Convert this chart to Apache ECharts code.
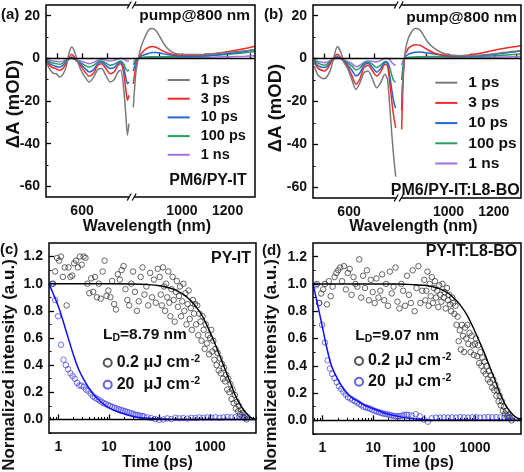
<!DOCTYPE html>
<html><head><meta charset="utf-8">
<script src="https://cdn.jsdelivr.net/npm/echarts@6/dist/echarts.min.js"></script>
<style>html,body{margin:0;padding:0;background:#fff}#c{width:524px;height:472px}</style>
</head><body><div id="c"></div>
<script>
// ---------- Panel (a)/(b): transient absorption spectra ----------
const names = ['1 ps','3 ps','10 ps','100 ps','1 ns'];
const colors = ['#7a7a7a','#f02828','#1f66d8','#22a05c','#a66ee6'];

const wlL_a = [456,469,483,496,509,523,536,549,559,569,583,596,612,629,647,663,679,696,713,729,745,756,767,776,783,789];
const a1L = [-1.7,-4.8,-6.9,-7.2,-8.8,-7.5,-4,3,5.3,3.4,-1.7,-5.6,-8.8,-11.1,-8.8,-5.3,-4.8,-8,-11.1,-10,-6.4,-5.6,-13.4,-26,-36,-30.6];
const a3L = [-1.3,-3.3,-4.4,-4.8,-5.6,-4.8,-2.5,0.6,1.9,0.6,-1.7,-3.8,-6.4,-8.4,-6.9,-3.3,-2.5,-4.8,-7.2,-6.4,-3.3,-2.5,-6.4,-14.2,-19.7,-17.3];
const a10L = [-0.9,-2.5,-3.3,-3.8,-4.1,-3.3,-1.7,-0.2,0.6,-0.2,-1.7,-2.8,-4.8,-6.4,-5.3,-2.5,-1.7,-3.3,-4.8,-4.4,-2.5,-1.7,-4.1,-8.8,-11.9,-11];
const a100L = [-0.6,-1.7,-2.2,-2.5,-2.8,-2.2,-0.9,0,0.3,-0.2,-1.3,-2.2,-3.3,-4.1,-3.3,-1.7,-1.3,-2.2,-3.3,-2.8,-1.7,-1.3,-2.5,-4.8,-5.9,-5.3];
const a1nL = [-0.3,-0.9,-1.3,-1.4,-1.6,-1.3,-0.6,-0.2,0,-0.3,-0.9,-1.4,-1.9,-2.5,-1.9,-0.9,-0.6,-0.9,-1.3,-0.9,-0.3,0,-0.3,-0.9,-1.3,-1.3];

const wlR_a = [787,798,809,821,838,856,869,886,904,926,948,974,1013,1079,1145,1211,1276,1320];
const a1R = [-23,-7,0,5.3,10,13.5,14,13,10,6,3.5,2.2,1.8,1.8,2.2,2.8,3.5,4.2];
const a3R = [-12,-4,0,2,4,5.2,5.5,5.2,4.2,3,2.2,1.7,1.5,1.6,2.3,3.3,4.6,5.7];
const a10R = [-6,-2,0,1,1.8,2.4,2.7,2.7,2.5,2,1.6,1.2,1,1.1,1.6,2.3,3.2,4];
const a100R = [-3,-1,0,0.4,0.6,0.8,0.8,0.8,0.8,0.8,0.8,0.8,0.8,1,1.4,2,2.6,3.2];
const a1nR = [-1.5,-0.5,0,0.2,0.3,0.3,0.3,0.3,0.3,0.3,0.3,0.4,0.4,0.5,0.6,0.8,1,1.2];

const wlL_b = [460,473,487,500,513,527,540,553,567,580,593,611,628,644,660,677,695,711,727,744,755,764,773,781,788];
const b1L = [-3.4,-7.3,-8.9,-9.4,-8.1,-4.7,1.3,5.6,3.1,-1.9,-4.2,-9.7,-14.4,-11.3,-6.6,-5.8,-9.7,-13.6,-11.3,-7.3,-9.7,-22.2,-36.3,-47.2,-55];
const b3L = [-1.9,-4.2,-5.3,-5.8,-4.7,-1.9,0.5,2,0.5,-1.6,-3.4,-7.8,-12,-9.4,-4.2,-3.1,-5.8,-8.1,-6.3,-2.7,-3.4,-11.3,-20.6,-27.7,-32.3];
const b10L = [-1.1,-3.1,-3.9,-4.2,-3.4,-1.6,0,0.9,0,-1.3,-2.7,-5.3,-8.1,-6.6,-3.1,-2.2,-4.2,-6.3,-4.7,-1.9,-2.2,-8.1,-15.2,-20.6,-23];
const b100L = [-0.6,-1.9,-2.7,-3.1,-2.5,-1.1,0,0.5,0,-0.9,-1.9,-3.4,-5.3,-4.4,-2.2,-1.6,-2.7,-4.2,-3.1,-1.3,-1.6,-4.2,-8.1,-10.5,-10.9];
const b1nL = [-0.3,-1.3,-1.6,-1.9,-1.6,-0.8,0,0.3,0,-0.6,-1.3,-2.2,-3.8,-3.1,-1.6,-1.1,-1.3,-1.6,-0.9,0,0,-0.6,-1.9,-2.7,-3.1];

const wlR_b = [793,805,822,852,873,910,939,983,1056,1129,1202,1289,1320];
const b1R = [-20,0,9.4,14,13.5,7.5,4.7,2.3,1.3,1.6,2.3,3.4,3.8];
const b3R = [-33,0,4.7,6.5,6.3,4,2.5,1.6,1.3,2.3,3.9,5.5,6];
const b10R = [-24,0,2,3,3.1,2.6,2.2,1.4,1,1.3,1.9,3.1,3.5];
const b100R = [-10,0,0.6,0.8,0.9,1,1,0.9,0.8,1,1.3,1.9,2.1];
const b1nR = [-3,0,0.2,0.3,0.3,0.3,0.3,0.3,0.3,0.4,0.6,0.9,1];

const yTicksTA = [-60,-40,-20,0,20];
const yMinorTA = [-50,-30,-10,10];
const xTicksL = [500,600,700];
const xLabelsL = [600];
const xTicksR = [900,1000,1100,1200,1300];
const xLabelsR = [1000,1200];

// ---------- Panel (c)/(d): exciton annihilation kinetics ----------
const tBlack = [0.78,0.86,0.94,1.03,1.12,1.22,1.33,1.45,1.58,1.72,1.87,2.04,2.22,2.42,2.64,2.88,3.14,3.42,3.73,4.07,4.44,4.84,5.28,5.76,6.28,6.85,7.47,8.15,8.89,9.7,
10.6,11.5,12.6,13.7,14.9,16.3,17.7,19.3,21.1,23,25,27.3,29.8,32.5,35.4,38.6,42.1,45.9,50,54.5,59.4,64.8,70.6,77,83.9,91.5,
100,105,110,116,122,128,134,141,148,155,163,171,180,189,198,208,218,229,241,253,265,279,293,307,323,339,356,373,392,412,432,454,476,500,525,552,579,608,639,670,704,739,776,815,856,899,944,991,
1040,1093,1147,1205,1265,1328,1395,1464,1538,1615,1695,1780,1869,1963,2061,2164,2272,2386,2505,2630,2762,2900,3045,3197,3357,3525,3701,3886,4080,4284,4499,4723,4960,5208];
const blackC = [1.0,1.09,1.19,1.17,1.2,1.05,1.12,0.84,1.12,1.05,1.06,1.15,1.17,1.12,1.2,1.14,1.2,1.19,1.0,0.93,1.04,0.94,1.05,0.9,1.0,0.89,1.09,1.17,0.91,0.95,
0.9,1.02,0.85,0.81,1.07,1.03,1.1,1.13,0.96,0.88,0.84,1.0,1.09,0.94,0.8,0.87,1.05,1.12,0.92,0.98,0.84,1.08,0.9,1.03,0.86,1.11,
1.05,0.92,0.84,1.12,0.98,0.8,1.0,0.9,1.09,0.86,0.76,0.96,1.05,0.88,0.72,0.94,1.02,0.83,0.91,0.98,0.76,0.87,1.0,0.8,0.93,0.7,0.85,0.95,0.74,0.82,0.66,0.88,0.78,0.85,0.7,0.84,0.62,0.78,0.72,0.58,0.76,0.66,0.52,0.7,0.56,0.62,0.48,0.6,
0.66,0.5,0.58,0.44,0.52,0.4,0.49,0.36,0.45,0.34,0.41,0.3,0.38,0.28,0.33,0.22,0.3,0.2,0.26,0.15,0.22,0.12,0.18,0.08,0.13,0.06,0.1,0.04,0.07,0.02,0.05,0.01,0.03,0.0];
const blackD = [1.0,0.86,0.93,0.96,1.0,0.85,1.02,0.91,0.98,1.05,1.08,1.1,1.12,1.02,1.13,0.96,1.08,1.11,0.92,1.05,1.0,0.98,1.18,0.9,1.06,0.97,1.1,0.88,1.03,0.94,
0.86,1.04,0.9,0.95,1.07,0.88,1.0,0.84,1.09,0.93,0.98,1.12,0.87,0.82,1.0,0.95,0.84,1.06,0.92,0.86,1.1,0.8,0.97,1.13,0.86,0.95,
1.03,0.88,0.95,1.09,0.84,1.0,0.91,1.05,0.86,0.97,1.02,0.9,0.95,0.83,0.99,0.92,0.87,1.0,0.9,0.94,0.82,0.97,0.88,0.92,0.85,0.8,0.9,0.86,0.78,0.84,0.7,0.76,0.58,0.66,0.52,0.7,0.62,0.5,0.68,0.6,0.7,0.56,0.64,0.5,0.62,0.55,0.48,0.56,
0.6,0.47,0.55,0.42,0.5,0.4,0.46,0.36,0.43,0.34,0.4,0.3,0.36,0.28,0.33,0.24,0.3,0.22,0.26,0.18,0.22,0.14,0.18,0.11,0.14,0.07,0.1,0.05,0.07,0.03,0.04,0.02,0.02,0.0];

const tBlue = [0.75,0.86,0.98,1.12,1.26,1.4,1.55,1.72,1.9,2.1,2.33,2.58,2.85,3.15,3.5,3.9,4.35,
4.8,5.3,5.85,6.45,7.1,7.8,8.6,9.5,10.5,11.6,12.8,14.1,15.5,17.1,18.8,20.7,22.8,25.1,27.6,30.4,33.4,36.8,40.5,44.6,49,
57,68,82,98,118,141,170,204,244,293,352,422,507,608,730,876,1051,1261,1513,1816,2179,2615,3138,3766,4519,5423];
const blueC = [1.0,0.88,0.76,0.55,0.44,0.4,0.37,0.34,0.32,0.3,0.27,0.25,0.25,0.24,0.22,0.21,0.19,
0.17,0.16,0.15,0.14,0.13,0.12,0.115,0.105,0.1,0.092,0.085,0.08,0.075,0.07,0.065,0.06,0.055,0.05,0.045,0.04,0.035,0.032,0.028,0.025,0.022,
0.015,0.01,0.003,-0.003,0.0,0.008,0.003,0.012,0.008,0.01,0.006,0.012,0.01,0.015,0.012,0.015,0.013,0.016,0.012,0.015,0.018,0.015,0.016,0.018,0.016,0.017];
const blueD = [0.99,0.86,0.7,0.57,0.44,0.38,0.34,0.31,0.28,0.25,0.23,0.21,0.19,0.17,0.16,0.15,0.14,
0.13,0.12,0.11,0.1,0.095,0.09,0.085,0.078,0.07,0.065,0.06,0.055,0.05,0.047,0.044,0.04,0.036,0.033,0.03,0.03,0.03,0.035,0.04,0.042,0.04,
0.035,0.045,0.03,0.005,-0.01,0.015,0.02,0.02,0.022,0.02,0.022,0.02,0.024,0.022,0.02,0.022,0.024,0.02,0.022,0.025,0.022,0.024,0.022,0.02,0.02,0.018];

const fitBlackT = [0.65,1,3,10,30,60,100,150,200,300,400,500,700,1000,1500,2000,2500,3000,4000,5000,6000,7000,8000];
const fitBlackC = [1,1,1,1,0.998,0.993,0.985,0.97,0.955,0.92,0.88,0.84,0.76,0.64,0.48,0.36,0.27,0.19,0.1,0.05,0.02,0.005,0];
const fitBlackD = [1,1,1,1,0.999,0.995,0.99,0.978,0.965,0.93,0.89,0.85,0.77,0.65,0.5,0.38,0.29,0.21,0.11,0.06,0.03,0.015,0.01];
const fitBlueT = [0.65,0.8,1,1.2,1.5,2,2.5,3,4,5,6,8,10,15,20,30,50,100,200,8000];
const fitBlueC = [1,0.92,0.83,0.74,0.62,0.47,0.37,0.31,0.23,0.18,0.15,0.11,0.085,0.055,0.04,0.022,0.01,0.003,0,0];
const fitBlueD = [1,0.85,0.68,0.54,0.4,0.3,0.24,0.2,0.16,0.14,0.12,0.1,0.085,0.06,0.045,0.03,0.015,0.005,0,0];

const xTicksLog = [1,10,100,1000];
const xMinorLog = [0.7,0.8,0.9,2,3,4,5,6,7,8,9,20,30,40,50,60,70,80,90,200,300,400,500,600,700,800,900,2000,3000,4000,5000,6000,7000,8000];
const yTicksK = [0,0.2,0.4,0.6,0.8,1.0,1.2];
const yMinorK = [-0.1,0.1,0.3,0.5,0.7,0.9,1.1];
const legK = ['0.2 μJ cm-2','20 μJ cm-2'];

// ---------- layout ----------
const FF = '"Liberation Sans", Arial, sans-serif';
const P = {
  aL:{left:46,top:5,width:85.7,height:192}, aR:{left:131.7,top:5,width:123.3,height:192},
  bL:{left:313,top:5,width:85.7,height:193}, bR:{left:398.7,top:5,width:122.3,height:193},
  c:{left:49,top:243,width:207,height:190}, d:{left:313,top:243,width:208,height:191}
};
const zip = (xs, ys) => xs.map((x,i)=>[x, ys[i]]);
const lab = {fontFamily:FF,fontWeight:'bold',fontSize:14,color:'#111'};

function xMajor(grid,min,max,ticks,labels,type){
  return {gridIndex:grid,type:type||'value',min,max,position:'bottom',
    axisLine:{show:false},splitLine:{show:false},
    axisTick:{show:true,inside:true,length:5,lineStyle:{color:'#000',width:1.3},customValues:ticks},
    axisLabel:Object.assign({show:true,margin:7,customValues:labels,formatter:v=>String(v)},lab)};
}
function xMinor(grid,min,max,ticks,type){
  return {gridIndex:grid,type:type||'value',min,max,position:'bottom',
    axisLine:{show:false},splitLine:{show:false},axisLabel:{show:false},
    axisTick:{show:true,inside:true,length:2.5,lineStyle:{color:'#000',width:1},customValues:ticks}};
}
function yMajor(grid,min,max,ticks,fmt){
  return {gridIndex:grid,type:'value',min,max,position:'left',
    axisLine:{show:false},splitLine:{show:false},
    axisTick:{show:true,inside:true,length:5,lineStyle:{color:'#000',width:1.3},customValues:ticks},
    axisLabel:Object.assign({show:true,margin:6,customValues:ticks,formatter:fmt||(v=>String(v))},lab)};
}
function yMinor(grid,min,max,ticks){
  return {gridIndex:grid,type:'value',min,max,position:'left',
    axisLine:{show:false},splitLine:{show:false},axisLabel:{show:false},
    axisTick:{show:true,inside:true,length:2.5,lineStyle:{color:'#000',width:1},customValues:ticks}};
}
function yHidden(grid,min,max){ return {gridIndex:grid,type:'value',min,max,show:false}; }

const xAxis = [
  xMajor(0,455,800,xTicksL,xLabelsL), xMinor(0,455,800,[]),
  xMajor(1,780,1320,xTicksR,xLabelsR), xMinor(1,780,1320,[]),
  xMajor(2,455,800,xTicksL,xLabelsL), xMinor(2,455,800,[]),
  xMajor(3,780,1320,xTicksR,xLabelsR), xMinor(3,780,1320,[]),
  xMajor(4,0.65,8000,xTicksLog,xTicksLog,'log'), xMinor(4,0.65,8000,xMinorLog,'log'),
  xMajor(5,0.65,8000,xTicksLog,xTicksLog,'log'), xMinor(5,0.65,8000,xMinorLog,'log')
];
const yAxis = [
  yMajor(0,-65,25,yTicksTA), yMinor(0,-65,25,yMinorTA), yHidden(1,-65,25),
  yMajor(2,-65,25,yTicksTA), yMinor(2,-65,25,yMinorTA), yHidden(3,-65,25),
  yMajor(4,-0.1,1.3,yTicksK,v=>v.toFixed(1)), yMinor(4,-0.1,1.3,yMinorK),
  yMajor(5,-0.1,1.3,yTicksK,v=>v.toFixed(1)), yMinor(5,-0.1,1.3,yMinorK)
];

const zeroLine = {silent:true,symbol:['none','none'],label:{show:false},lineStyle:{color:'#000',width:1.3,type:'solid'},data:[{yAxis:0}],animation:false};

const series = [];
function taLine(name,color,xi,yi,wl,vals,withZero){
  const s = {name,type:'line',xAxisIndex:xi,yAxisIndex:yi,data:zip(wl,vals),showSymbol:false,symbol:'none',
    smooth:0.25,lineStyle:{color,width:1.5},itemStyle:{color},z:3};
  if (withZero) s.markLine = zeroLine;
  series.push(s);
}
const setA = [[a1L,a1R],[a3L,a3R],[a10L,a10R],[a100L,a100R],[a1nL,a1nR]];
const setB = [[b1L,b1R],[b3L,b3R],[b10L,b10R],[b100L,b100R],[b1nL,b1nR]];
for (let i=4;i>=0;i--){
  taLine(names[i],colors[i],0,0,wlL_a,setA[i][0],i===4);
  taLine(names[i],colors[i],2,2,wlR_a,setA[i][1],i===4);
  taLine(names[i],colors[i],4,3,wlL_b,setB[i][0],i===4);
  taLine(names[i],colors[i],6,5,wlR_b,setB[i][1],i===4);
}
const blkC = '#2b2b2b', bluC = '#3a3ce0';
function kin(xi,yi,blackV,blueV,fitB,fitU){
  series.push({name:legK[0],type:'scatter',xAxisIndex:xi,yAxisIndex:yi,data:zip(tBlack,blackV),symbol:'circle',symbolSize:5.5,
    itemStyle:{color:'rgba(0,0,0,0)',borderColor:blkC,borderWidth:0.9},markLine:zeroLine,z:2});
  series.push({name:legK[1],type:'scatter',xAxisIndex:xi,yAxisIndex:yi,data:zip(tBlue,blueV),symbol:'circle',symbolSize:5.5,
    itemStyle:{color:'rgba(0,0,0,0)',borderColor:bluC,borderWidth:0.9},z:2});
  series.push({name:'fitB',type:'line',xAxisIndex:xi,yAxisIndex:yi,data:zip(fitBlackT,fitB),showSymbol:false,symbol:'none',smooth:0.3,
    lineStyle:{color:'#000',width:1.4},z:4});
  series.push({name:'fitU',type:'line',xAxisIndex:xi,yAxisIndex:yi,data:zip(fitBlueT,fitU),showSymbol:false,symbol:'none',smooth:0.3,
    lineStyle:{color:'#1010ff',width:1.5},z:4});
}
kin(8,6,blackC,blueC,fitBlackC,fitBlueC);
kin(10,8,blackD,blueD,fitBlackD,fitBlueD);

function taLegend(left,top,fs,lh,gap){
  return {show:true,orient:'vertical',left,top,padding:0,icon:'rect',itemWidth:22,itemHeight:2,itemGap:gap,selectedMode:false,data:names,
    textStyle:{fontFamily:FF,fontWeight:'bold',fontSize:fs,color:'#111',lineHeight:lh,padding:[0,0,0,6]}};
}
function kLegend(left,top,gap){
  return {show:true,orient:'vertical',left,top,padding:0,itemWidth:8,itemHeight:8,itemGap:gap,selectedMode:false,data:legK,
    formatter:n=>n==='0.2 μJ cm-2'?'{t|0.2 μJ cm}{s|-2}':'{t|20  μJ cm}{s|-2}',
    textStyle:{fontFamily:FF,fontWeight:'bold',fontSize:16,color:'#111',lineHeight:18,
      rich:{t:{fontFamily:FF,fontWeight:'bold',fontSize:16,color:'#111',lineHeight:18},
            s:{fontFamily:FF,fontWeight:'bold',fontSize:10.5,color:'#111',verticalAlign:'top',lineHeight:10,padding:[0,0,0,1]}}}};
}
const legend = [taLegend(167.7,72,14.5,16,2.7), taLegend(435.3,74.2,15.5,17,3.2), kLegend(102.7,353.7,4), kLegend(354,352,2.7)];

// ---------- graphic: frames, break marks, texts ----------
const G = [];
function frame(x,y,w,h){ G.push({type:'rect',shape:{x,y,width:w,height:h},style:{fill:'none',stroke:'#000',lineWidth:1.5},z:100,silent:true}); }
frame(46,5,209,192); frame(313,5,208,193); frame(49,243,207,190); frame(313,243,208,191);
function brk(bx,y){
  G.push({type:'rect',shape:{x:bx-2.5,y:y-2,width:5,height:4},style:{fill:'#fff'},z:101,silent:true});
  G.push({type:'line',shape:{x1:bx-4.5,y1:y+3.5,x2:bx-0.5,y2:y-3.5},style:{stroke:'#000',lineWidth:1.2},z:102,silent:true});
  G.push({type:'line',shape:{x1:bx+0.5,y1:y+3.5,x2:bx+4.5,y2:y-3.5},style:{stroke:'#000',lineWidth:1.2},z:102,silent:true});
}
brk(131.7,5); brk(131.7,197); brk(398.7,5); brk(398.7,198);
function txt(t,x,y,fs,align,rot){
  G.push({type:'text',x,y,rotation:rot||0,z:110,silent:true,
    style:{text:t,fill:'#111',fontFamily:FF,fontWeight:'bold',fontSize:fs,align:align||'center',verticalAlign:'middle'}});
}
function rich(t,x,y,rs){
  G.push({type:'text',x,y,z:110,silent:true,style:{text:t,fill:'#111',align:'left',verticalAlign:'middle',rich:rs}});
}
const richLD = {m:{fontFamily:FF,fontWeight:'bold',fontSize:15.5,fill:'#111',lineHeight:18},
                d:{fontFamily:FF,fontWeight:'bold',fontSize:10.5,fill:'#111',verticalAlign:'bottom',lineHeight:18,padding:[6,0,0,0]}};
txt('(a)',1,15,15,'left'); txt('(b)',264,15,15,'left'); txt('(c)',0,250,15,'left'); txt('(d)',262,251,15,'left');
txt('pump@800 nm',250,16,15.5,'right'); txt('PM6/PY-IT',246.7,181,16,'right');
txt('pump@800 nm',517,18,15.5,'right'); txt('PM6/PY-IT:L8-BO',519.7,190.7,16,'right');
txt('PY-IT',251,259,16,'right'); txt('PY-IT:L8-BO',517.3,252,16,'right');
rich('{m|L}{d|D}{m|=8.79 nm}',103,334.7,richLD); rich('{m|L}{d|D}{m|=9.07 nm}',355.3,335.3,richLD);
txt('ΔA (mOD)',14,104,18.5,'center',Math.PI/2); txt('ΔA (mOD)',276,108,18.5,'center',Math.PI/2);
txt('Wavelength (nm)',147,227,16,'center'); txt('Wavelength (nm)',413.5,227,16,'center');
txt('Normalized intensity (a.u.)',9,365,17,'center',Math.PI/2); txt('Normalized intensity (a.u.)',271,365,17,'center',Math.PI/2);
txt('Time (ps)',157.5,462.5,16,'center'); txt('Time (ps)',418.5,462.5,16,'center');

const chart = echarts.init(document.getElementById('c'),null,{renderer:'canvas'});
chart.setOption({
  animation:false, backgroundColor:'#fff',
  grid:[P.aL,P.aR,P.bL,P.bR,P.c,P.d].map(g=>Object.assign({containLabel:false},g)),
  xAxis, yAxis, series, legend, graphic:G
});
</script></body></html>
